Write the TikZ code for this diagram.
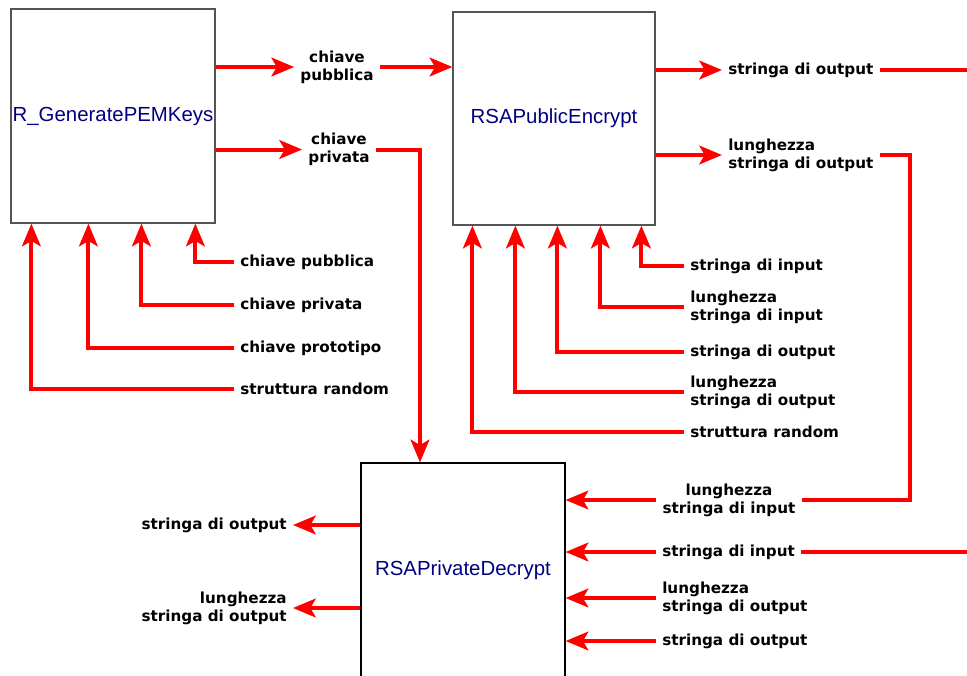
\documentclass[tikz,border=0pt]{standalone}
\usepackage{fontspec}
\setmainfont{DejaVu Sans}
\newfontfamily\titlefont{Liberation Sans}
\usetikzlibrary{arrows.meta}
\definecolor{wirered}{RGB}{255,0,0}
\definecolor{titleblue}{RGB}{0,0,128}
\definecolor{boxgray}{RGB}{85,85,85}

\begin{document}
\begin{tikzpicture}[x=0.75pt,y=-0.75pt,
    block/.style={draw=#1,line width=0.9pt,inner sep=0pt,text=titleblue,
        font=\titlefont\fontsize{15.3}{18}\selectfont},
    lbl/.style={font=\bfseries\fontsize{11.4}{13.5}\selectfont,inner sep=4.5pt},
    wire/.style={wirered,line width=3pt},
    arr/.style={wire,-{Stealth[length=17pt,width=14pt,inset=4pt]}}]

    \useasboundingbox (0,0) rectangle (967,675);

    % blocks
    \node[block=boxgray,minimum width=153pt,minimum height=160.5pt] (gen) at (113,116) {R\_GeneratePEMKeys};
    \node[block=boxgray,minimum width=151.5pt,minimum height=159.75pt] (enc) at (554,118.5) {RSAPublicEncrypt};
    \node[block=black,minimum width=153pt,minimum height=160.5pt] (dec) at (463,570) {RSAPrivateDecrypt};

    % keys out of R_GeneratePEMKeys
    \node[lbl,align=center] (kpub) at (337,67) {chiave\\pubblica};
    \node[lbl,align=center] (kpriv) at (339,149.5) {chiave\\privata};

    \draw[arr] (kpub.west -| gen.east) -- (kpub.west);
    \draw[arr] (kpub.east) -- (kpub.east -| enc.west);
    \draw[arr] (kpriv.west -| gen.east) -- (kpriv.west);
    \draw[arr] (kpriv.east) -| ([xshift=-32.25pt]dec.north);

    % inputs of R_GeneratePEMKeys
    \node[lbl,anchor=west] (gin1) at (234,262) {chiave pubblica};
    \node[lbl,anchor=west] (gin2) at (234,305) {chiave privata};
    \node[lbl,anchor=west] (gin3) at (234,348) {chiave prototipo};
    \node[lbl,anchor=west] (gin4) at (234,389) {struttura random};

    \draw[arr] (gin1.west) -| ([xshift=138.75pt]gen.south west);
    \draw[arr] (gin2.west) -| ([xshift=98.25pt]gen.south west);
    \draw[arr] (gin3.west) -| ([xshift=58.5pt]gen.south west);
    \draw[arr] (gin4.west) -| ([xshift=15.75pt]gen.south west);

    % inputs of RSAPublicEncrypt
    \node[lbl,anchor=west] (ein1) at (684,266) {stringa di input};
    \node[lbl,anchor=west,align=left] (ein2) at (684,307) {lunghezza\\stringa di input};
    \node[lbl,anchor=west] (ein3) at (684,352) {stringa di output};
    \node[lbl,anchor=west,align=left] (ein4) at (684,392) {lunghezza\\stringa di output};
    \node[lbl,anchor=west] (ein5) at (684,432) {struttura random};

    \draw[arr] (ein1.west) -| ([xshift=141.75pt]enc.south west);
    \draw[arr] (ein2.west) -| ([xshift=111pt]enc.south west);
    \draw[arr] (ein3.west) -| ([xshift=78.75pt]enc.south west);
    \draw[arr] (ein4.west) -| ([xshift=47.25pt]enc.south west);
    \draw[arr] (ein5.west) -| ([xshift=15pt]enc.south west);

    % outputs of RSAPublicEncrypt
    \node[lbl,anchor=west] (eout) at (722,70) {stringa di output};
    \node[lbl,anchor=west,align=left] (elen) at (722,155) {lunghezza\\stringa di output};
    \coordinate (eedge) at (967,70);
    \coordinate (rail) at (910,0);

    \draw[arr] (eout.west -| enc.east) -- (eout.west);
    \draw[wire] (eout.east) -- (eedge);
    \draw[arr] (elen.west -| enc.east) -- (elen.west);

    % inputs of RSAPrivateDecrypt
    \node[lbl,align=center] (dlenin) at (729,500) {lunghezza\\stringa di input};
    \node[lbl,anchor=west] (din) at (656,552) {stringa di input};
    \node[lbl,anchor=west,align=left] (dlenout) at (656,598) {lunghezza\\stringa di output};
    \node[lbl,anchor=west] (dout) at (656,641) {stringa di output};
    \coordinate (dedge) at (967,552);

    \draw[wire] (elen.east) -| (dlenin.east -| rail) -- (dlenin.east);
    \draw[arr] (dlenin.west) -- (dlenin.west -| dec.east);
    \draw[wire] (dedge) -- (din.east);
    \draw[arr] (din.west) -- (din.west -| dec.east);
    \draw[arr] (dlenout.west) -- (dlenout.west -| dec.east);
    \draw[arr] (dout.west) -- (dout.west -| dec.east);

    % outputs of RSAPrivateDecrypt
    \node[lbl,anchor=east] (dres) at (293,525) {stringa di output};
    \node[lbl,anchor=east,align=right] (dreslen) at (293,608) {lunghezza\\stringa di output};

    \draw[arr] (dres.east -| dec.west) -- (dres.east);
    \draw[arr] (dreslen.east -| dec.west) -- (dreslen.east);
\end{tikzpicture}
\end{document}
